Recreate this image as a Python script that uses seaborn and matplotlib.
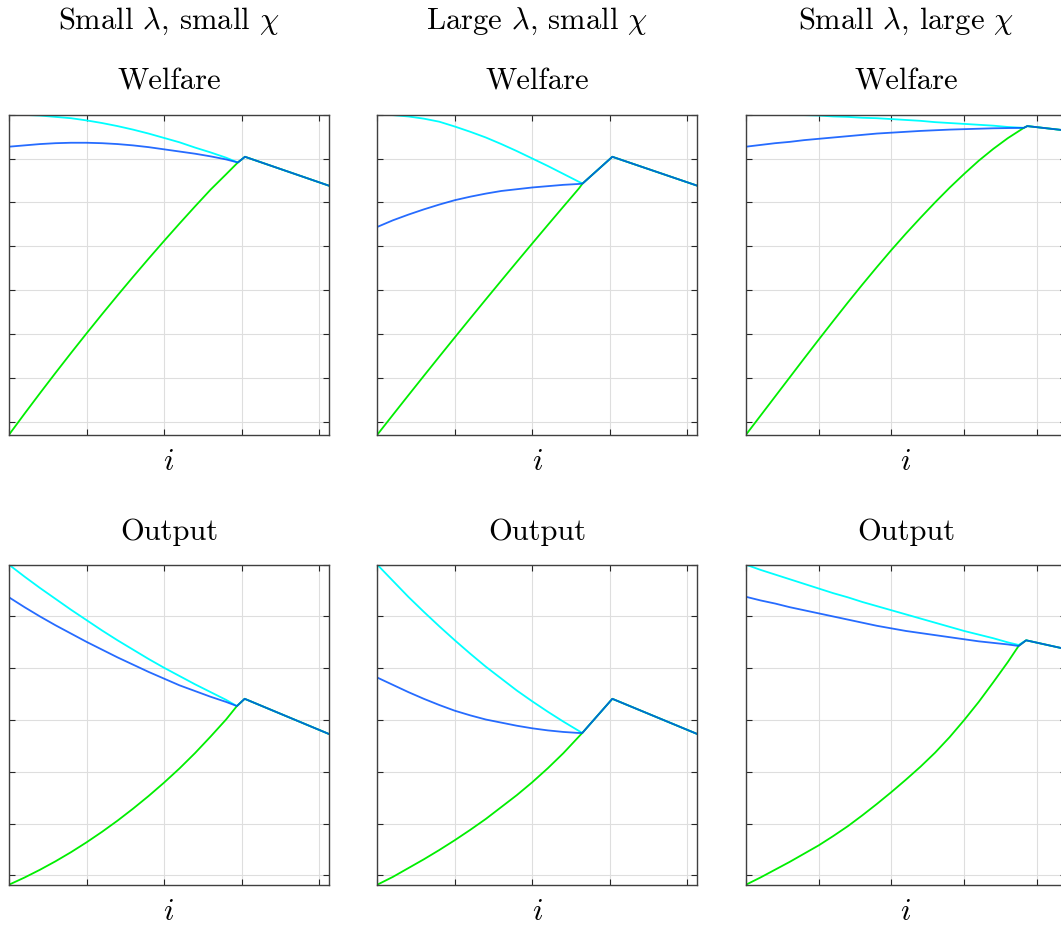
import matplotlib
matplotlib.use("Agg")
import matplotlib.pyplot as plt
import seaborn as sns

# ---------------- data ----------------
col_titles = [r"Small $\lambda$, small $\chi$", r"Large $\lambda$, small $\chi$", r"Small $\lambda$, large $\chi$"]
row_titles = ["Welfare", "Output"]

# Welfare, small lambda small chi
w1_x = [0, .05, .1, .15, .2, .25, .3, .35, .4, .45, .5, .55, .6, .65, .7, .738]
w1_cyan = [7.00, 6.995, 6.98, 6.95, 6.92, 6.87, 6.81, 6.74, 6.66, 6.57, 6.47, 6.37, 6.25, 6.14, 6.02, 5.91]
w1_blue = [6.27, 6.30, 6.33, 6.35, 6.36, 6.36, 6.35, 6.33, 6.30, 6.26, 6.21, 6.16, 6.11, 6.05, 5.98, 5.91]
w1_green = [-0.30, 0.178, 0.648, 1.110, 1.564, 2.010, 2.448, 2.878, 3.300, 3.714, 4.120, 4.518, 4.908, 5.290, 5.640, 5.91]
w1_tail_x = [0.738, 0.761, 1.032]
w1_tail_y = [5.91, 6.04, 5.38]

# Welfare, large lambda small chi
w2_x = [0, .05, .1, .15, .2, .25, .3, .35, .4, .45, .5, .55, .6, .65, .662]
w2_cyan = [7.00, 6.99, 6.96, 6.91, 6.84, 6.73, 6.61, 6.48, 6.33, 6.17, 6.00, 5.83, 5.65, 5.47, 5.43]
w2_blue = [4.44, 4.59, 4.72, 4.84, 4.95, 5.05, 5.13, 5.20, 5.26, 5.30, 5.34, 5.37, 5.40, 5.42, 5.43]
w2_green = [-0.30, 0.15, 0.597, 1.041, 1.482, 1.920, 2.355, 2.787, 3.216, 3.642, 4.065, 4.485, 4.902, 5.316, 5.43]
w2_tail_x = [0.662, 0.758, 1.032]
w2_tail_y = [5.43, 6.04, 5.38]

# Welfare, small lambda large chi
w3_x = [0, .05, .1, .15, .2, .25, .3, .35, .4, .45, .5, .55, .6, .65, .7, .75, .8, .85, .9, .955]
w3_cyan = [7.00, 7.00, 7.00, 6.99, 6.99, 6.98, 6.96, 6.95, 6.93, 6.92, 6.90, 6.88, 6.86, 6.83, 6.81, 6.79, 6.77, 6.75, 6.72, 6.70]
w3_blue = [6.27, 6.31, 6.35, 6.38, 6.42, 6.45, 6.48, 6.51, 6.54, 6.57, 6.59, 6.61, 6.63, 6.645, 6.66, 6.67, 6.68, 6.69, 6.695, 6.70]
w3_green = [-0.30, 0.135, 0.57, 1.005, 1.44, 1.87, 2.295, 2.715, 3.125, 3.525, 3.915, 4.29, 4.65, 5.00, 5.335, 5.65, 5.95, 6.22, 6.465, 6.70]
w3_tail_x = [0.955, 0.967, 1.10]
w3_tail_y = [6.70, 6.74, 6.64]

# Output, small lambda small chi
o1_x = [0, .05, .1, .15, .2, .25, .3, .35, .4, .45, .5, .55, .6, .65, .7, .735]
o1_cyan = [6.00, 5.77, 5.55, 5.34, 5.13, 4.93, 4.73, 4.54, 4.36, 4.18, 4.01, 3.85, 3.69, 3.54, 3.39, 3.27]
o1_blue = [5.37, 5.18, 5.00, 4.83, 4.67, 4.51, 4.36, 4.21, 4.07, 3.93, 3.80, 3.67, 3.56, 3.45, 3.35, 3.27]
o1_green = [-0.18, -0.042, 0.109, 0.272, 0.448, 0.638, 0.841, 1.057, 1.288, 1.532, 1.791, 2.066, 2.362, 2.68, 3.01, 3.27]
o1_tail_x = [0.735, 0.760, 1.032]
o1_tail_y = [3.27, 3.41, 2.73]

# Output, large lambda small chi
o2_x = [0, .05, .1, .15, .2, .25, .3, .35, .4, .45, .5, .55, .6, .65, .661]
o2_cyan = [6.00, 5.69, 5.38, 5.09, 4.81, 4.54, 4.28, 4.03, 3.80, 3.57, 3.36, 3.16, 2.97, 2.79, 2.75]
o2_blue = [3.82, 3.68, 3.54, 3.41, 3.29, 3.18, 3.09, 3.01, 2.95, 2.89, 2.84, 2.80, 2.77, 2.75, 2.75]
o2_green = [-0.18, -0.03, 0.14, 0.31, 0.49, 0.68, 0.88, 1.09, 1.32, 1.55, 1.80, 2.07, 2.36, 2.68, 2.75]
o2_tail_x = [0.661, 0.758, 1.032]
o2_tail_y = [2.75, 3.41, 2.73]

# Output, small lambda large chi
o3_x = [0, .05, .1, .15, .2, .25, .3, .35, .4, .45, .5, .55, .6, .65, .7, .75, .8, .85, .9, .937]
o3_cyan = [6.00, 5.90, 5.81, 5.72, 5.63, 5.54, 5.45, 5.37, 5.28, 5.20, 5.12, 5.04, 4.96, 4.88, 4.80, 4.72, 4.65, 4.58, 4.50, 4.45]
o3_blue = [5.38, 5.31, 5.25, 5.18, 5.12, 5.06, 5.00, 4.94, 4.88, 4.82, 4.77, 4.72, 4.68, 4.64, 4.60, 4.56, 4.52, 4.49, 4.46, 4.43]
o3_green = [-0.18, -0.04, 0.11, 0.26, 0.42, 0.58, 0.76, 0.95, 1.16, 1.38, 1.61, 1.85, 2.10, 2.37, 2.67, 3.00, 3.35, 3.73, 4.12, 4.43]
o3_tail_x = [0.937, 0.963, 1.10]
o3_tail_y = [4.43, 4.54, 4.37]

x_ticks = [0, 0.25, 0.5, 0.75, 1.0]
welfare_yticks = [0, 1, 2, 3, 4, 5, 6, 7]
output_yticks = [0, 1, 2, 3, 4, 5, 6]

panels = [
    [(w1_x, w1_cyan, w1_blue, w1_green, w1_tail_x, w1_tail_y, 1.032),
     (w2_x, w2_cyan, w2_blue, w2_green, w2_tail_x, w2_tail_y, 1.032),
     (w3_x, w3_cyan, w3_blue, w3_green, w3_tail_x, w3_tail_y, 1.10)],
    [(o1_x, o1_cyan, o1_blue, o1_green, o1_tail_x, o1_tail_y, 1.032),
     (o2_x, o2_cyan, o2_blue, o2_green, o2_tail_x, o2_tail_y, 1.032),
     (o3_x, o3_cyan, o3_blue, o3_green, o3_tail_x, o3_tail_y, 1.10)],
]
row_ylim = [(-0.30, 7.0), (-0.18, 6.0)]
row_yticks = [welfare_yticks, output_yticks]

# ---------------- style ----------------
sns.set_theme(style="white")
plt.rcParams['font.family'] = ['cmr10', 'DejaVu Serif']
plt.rcParams['mathtext.fontset'] = 'cm'
plt.rcParams['axes.formatter.use_mathtext'] = True
plt.rcParams['text.color'] = 'black'
plt.rcParams['axes.labelcolor'] = 'black'

W, H = 1061, 926
fig = plt.figure(figsize=(W / 100, H / 100), dpi=100)
fig.patch.set_facecolor('white')

lefts = [9, 377.3, 746]
tops = [114.7, 564.7]
size = 320

CYAN = '#00ffff'
BLUE = '#0052ff'
GREEN = '#00ee00'
FS = 22

for r in range(2):
    for c in range(3):
        xs, cy, bl, gr, tx, ty, xmax = panels[r][c]
        ax = fig.add_axes([lefts[c] / W, 1 - (tops[r] + size) / H, size / W, size / H])
        for series, col, a in [(cy, CYAN, 1.0), (gr, GREEN, 1.0), (bl, BLUE, 0.85)]:
            sns.lineplot(x=list(xs) + tx[1:], y=list(series) + ty[1:], ax=ax,
                         color=col, lw=1.3, alpha=a, sort=False, estimator=None)
        ax.set_xlim(0, xmax)
        ax.set_ylim(*row_ylim[r])
        ax.set_xticks(x_ticks)
        ax.set_yticks(row_yticks[r])
        ax.grid(True, color='#dedede', linewidth=0.8)
        ax.set_axisbelow(True)
        ax.tick_params(direction='in', length=4, width=0.8, top=True, right=True,
                       bottom=True, left=True, labelbottom=False, labelleft=False,
                       color='#262626')
        for s in ax.spines.values():
            s.set_color('#404040')
            s.set_linewidth(1.0)
        ax.set_title(row_titles[r], fontsize=FS, pad=18, color='black')
        ax.set_xlabel('$i$', fontsize=FS, labelpad=10, color='black')
        ax.set_ylabel('')
        if r == 0:
            fig.text((lefts[c] + size / 2) / W, 1 - 29 / H, col_titles[c],
                     ha='center', va='baseline', fontsize=FS, color='black')

fig.savefig('out.png', dpi=100)
